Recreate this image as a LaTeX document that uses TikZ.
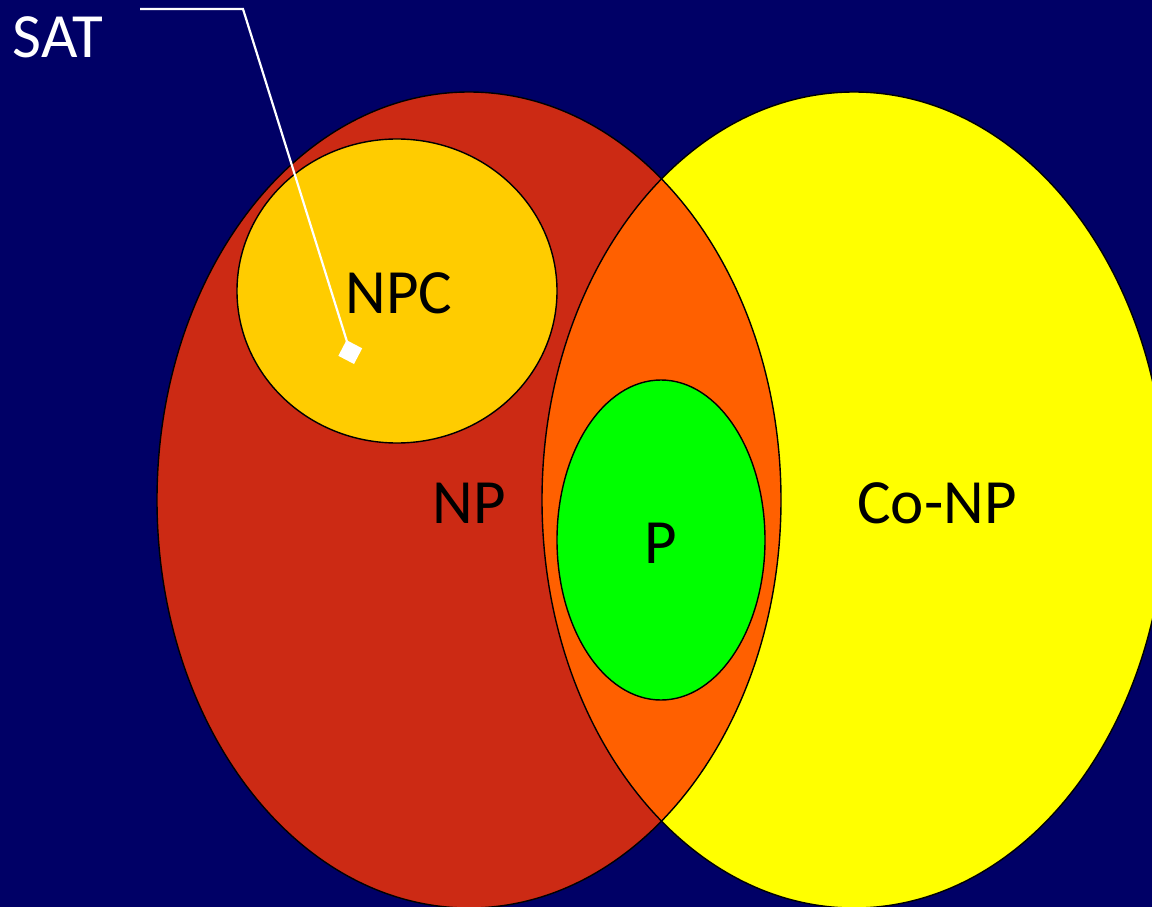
\documentclass[tikz,border=0pt]{standalone}
\usepackage{fontspec}
\setmainfont{Carlito}
\usetikzlibrary{arrows.meta}
\definecolor{navy}{HTML}{000066}
\definecolor{npred}{HTML}{CC2A14}
\definecolor{lens}{HTML}{FF6000}
\definecolor{npcgold}{HTML}{FFCC00}
\definecolor{pgreen}{HTML}{00FF00}
\definecolor{conp}{HTML}{FFFF00}
\tikzset{
  setlabel/.style={font=\fontsize{63}{74}\selectfont, text=black, inner sep=0pt},
  outline/.style={draw=black, line width=1.4pt},
  pointer/.style={draw=white, line width=2.2pt, -{Diamond[length=25pt,width=25pt,fill=white]}}
}
\begin{document}
\begin{tikzpicture}[x=1pt,y=-1pt]
  % background
  \fill[navy] (0,0) rectangle (1152,907);
  \useasboundingbox (0,0) rectangle (1152,907);
  \begin{scope}
    \clip (0,0) rectangle (1152,907);
    % NP and Co-NP
    \fill[npred] (469,500) ellipse [x radius=312, y radius=408];
    \fill[conp] (854,500) ellipse [x radius=312, y radius=408];
    % intersection of NP and Co-NP
    \begin{scope}
      \clip (469,500) ellipse [x radius=312, y radius=408];
      \fill[lens] (854,500) ellipse [x radius=312, y radius=408];
    \end{scope}
    \draw[outline] (469,500) ellipse [x radius=312, y radius=408];
    \draw[outline] (854,500) ellipse [x radius=312, y radius=408];
  \end{scope}
  % NP-complete and P
  \fill[npcgold, outline] (397,291) ellipse [x radius=160, y radius=152];
  \fill[pgreen, outline] (661,540) ellipse [x radius=104, y radius=160];
  % labels
  \node[setlabel] (npc) at (399,293) {NPC};
  \node[setlabel] (np) at (469,503) {NP};
  \node[setlabel] (p) at (661,543) {P};
  \node[setlabel] (conp) at (937,503) {Co-NP};
  \node[setlabel, text=white] (sat) at (58,37) {SAT};
  % pointer from SAT into NPC
  \coordinate (satstart) at (140,9);
  \coordinate (satbend) at (243,9);
  \coordinate (satpoint) at (354,364);
  \draw[pointer] (satstart) -- (satbend) -- (satpoint);
\end{tikzpicture}
\end{document}
